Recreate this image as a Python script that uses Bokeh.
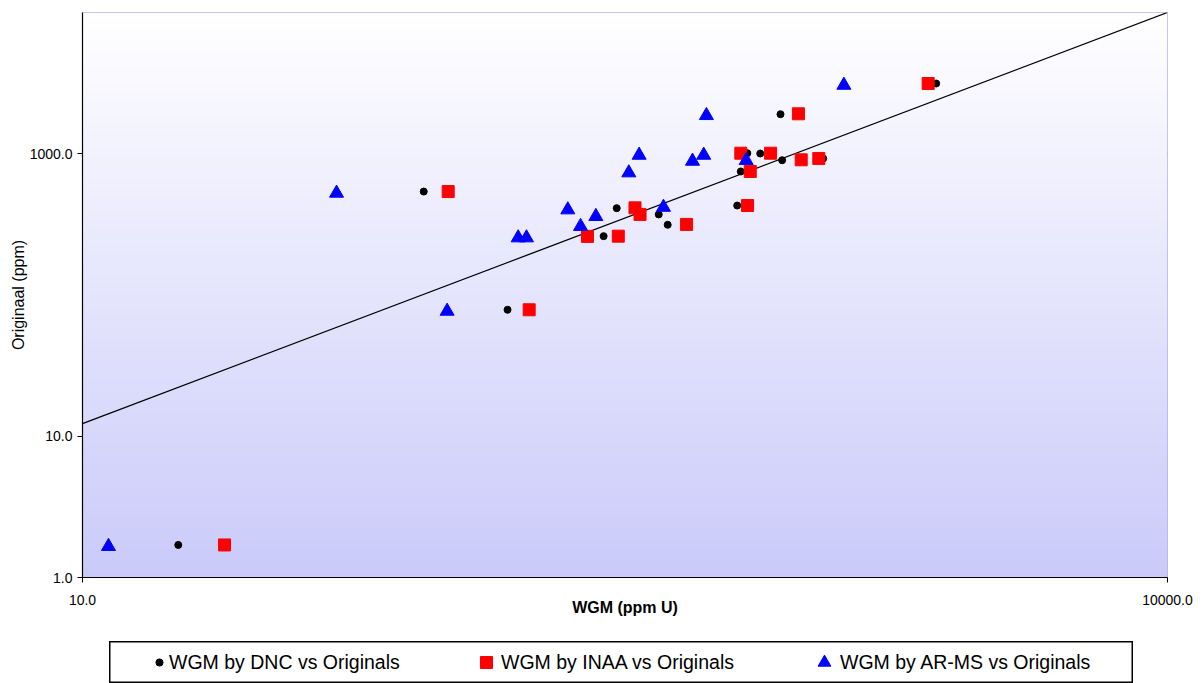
import numpy as np
from bokeh.plotting import figure
from bokeh.models import Range1d, FixedTicker, PrintfTickFormatter, Legend, LegendItem, Spacer
from bokeh.layouts import column, row
from bokeh.embed import file_html
from bokeh.resources import INLINE

# ---------------- data ----------------
dnc_x = [18.4, 87.8, 149.7, 276, 300, 392, 415, 661, 689, 748, 860, 646, 851, 1117, 2293]
dnc_y = [1.70, 540, 78.6, 261, 412, 372, 314, 749, 1009, 1004, 900, 430, 1905, 926, 3143]

inaa_x = [24.7, 102.6, 171.8, 249, 303, 337, 348, 468, 661, 702, 690, 799, 954, 971, 1086, 2179]
inaa_y = [1.70, 540, 78.6, 260, 261, 414, 372, 316, 1009, 749, 430, 1009, 1918, 906, 926, 3143]

arms_x = [11.8, 50.4, 101.9, 160.2, 168.9, 219.7, 238.3, 262.7, 324, 346, 404, 486, 522, 531, 684, 1274]
arms_y = [1.66, 526, 76.8, 254, 254, 401, 306, 360, 733, 977, 418, 886, 977, 1865, 896, 3057]

fit_x = [10, 10000]
fit_y = [12.3, 10000]

x_lim = [10, 10000]
y_lim = [1, 10000]
x_ticks = [10, 10000]
y_ticks = [1, 10, 1000]
y_grid_ticks = [1000]

series_labels = ["WGM by DNC vs Originals", "WGM by INAA vs Originals", "WGM by AR-MS vs Originals"]
x_title = "WGM (ppm U)"
y_title = "Originaal (ppm)"

FONT = "Liberation Sans"

# ---------------- main plot ----------------
p = figure(width=1204, height=641, x_axis_type="log", y_axis_type="log",
           x_range=Range1d(*x_lim), y_range=Range1d(*y_lim),
           output_backend="svg", toolbar_location=None,
           min_border_left=82, min_border_right=37, min_border_top=12, min_border_bottom=64)
p.background_fill_color = "white"
p.border_fill_color = "white"
p.outline_line_color = "#b4b4e6"
p.outline_line_width = 1

# vertical gradient background (white top -> lavender bottom)
n = 512
t = np.linspace(0.0, 1.0, n)
c_bottom = np.array([202.0, 202.0, 250.0])
c_top = np.array([255.0, 255.0, 255.0])
rgb = c_bottom[None, :] + (c_top - c_bottom)[None, :] * t[:, None]
img = np.zeros((n, 2), dtype=np.uint32)
view = img.view(dtype=np.uint8).reshape((n, 2, 4))
for k in range(3):
    view[:, :, k] = np.round(rgb[:, k])[:, None].astype(np.uint8)
view[:, :, 3] = 255
p.image_rgba(image=[img], x=x_lim[0], y=y_lim[0],
             dw=x_lim[1] - x_lim[0], dh=y_lim[1] - y_lim[0])

p.line(fit_x, fit_y, line_color="black", line_width=1.3)

p.scatter(dnc_x, dnc_y, marker="circle", size=7, color="black")
p.scatter(inaa_x, inaa_y, marker="square", size=12, color="#ff0000")
p.scatter(arms_x, arms_y, marker="triangle", size=14, color="#0000ff")

p.xaxis.ticker = FixedTicker(ticks=x_ticks)
p.yaxis.ticker = FixedTicker(ticks=y_ticks)
p.axis.formatter = PrintfTickFormatter(format="%.1f")
p.xgrid.visible = False
p.ygrid.ticker = FixedTicker(ticks=y_grid_ticks)
p.ygrid.grid_line_color = "#555555"
p.ygrid.grid_line_width = 1.2

p.axis.axis_line_color = "black"
p.axis.axis_line_width = 1.2
p.axis.major_tick_line_color = "black"
p.axis.major_tick_in = 0
p.axis.major_tick_out = 5
p.axis.minor_tick_in = 0
p.axis.minor_tick_out = 0
p.axis.major_label_text_font = FONT
p.axis.major_label_text_font_size = "14px"
p.axis.major_label_text_color = "black"
p.yaxis.major_label_standoff = 5
p.xaxis.major_label_standoff = 12

p.xaxis.axis_label = x_title
p.xaxis.axis_label_text_font = FONT
p.xaxis.axis_label_text_font_size = "16px"
p.xaxis.axis_label_text_font_style = "bold"
p.xaxis.axis_label_text_color = "black"
p.xaxis.axis_label_standoff = -9

p.yaxis.axis_label = y_title
p.yaxis.axis_label_text_font = FONT
p.yaxis.axis_label_text_font_size = "16px"
p.yaxis.axis_label_text_font_style = "normal"
p.yaxis.axis_label_text_color = "black"
p.yaxis.axis_label_standoff = 0

# ---------------- legend box ----------------
lf = figure(width=1024, height=42, x_range=Range1d(0, 1), y_range=Range1d(0, 1),
            x_axis_type=None, y_axis_type=None, output_backend="svg",
            toolbar_location=None, min_border=0)
lf.outline_line_color = "black"
lf.outline_line_width = 2
lf.background_fill_color = "white"
lf.border_fill_color = "white"

# legend key renderers (their data lie outside this box's 0..1 ranges, so only the keys show)
r1 = lf.scatter(dnc_x, dnc_y, marker="circle", color="black")
r2 = lf.scatter(inaa_x, inaa_y, marker="square", color="#ff0000")
r3 = lf.scatter(arms_x, arms_y, marker="triangle", color="#0000ff")

specs = [(r1, series_labels[0], 18, 41, 1),
         (r2, series_labels[1], 30, 362, 0),
         (r3, series_labels[2], 32, 699, 0)]
for rend, lab, g, xo, so in specs:
    lg = Legend(items=[LegendItem(label=lab, renderers=[rend])], location=(xo, 5),
                glyph_width=g, glyph_height=g, label_height=32, label_standoff=so,
                padding=0, margin=0, spacing=0,
                border_line_alpha=0, background_fill_alpha=0,
                label_text_font=FONT, label_text_font_size="19.5px",
                label_text_color="black")
    lf.add_layout(lg)

layout = column(p, row(Spacer(width=109, height=42), lf))

open("out.html", "w").write(file_html(layout, INLINE))
